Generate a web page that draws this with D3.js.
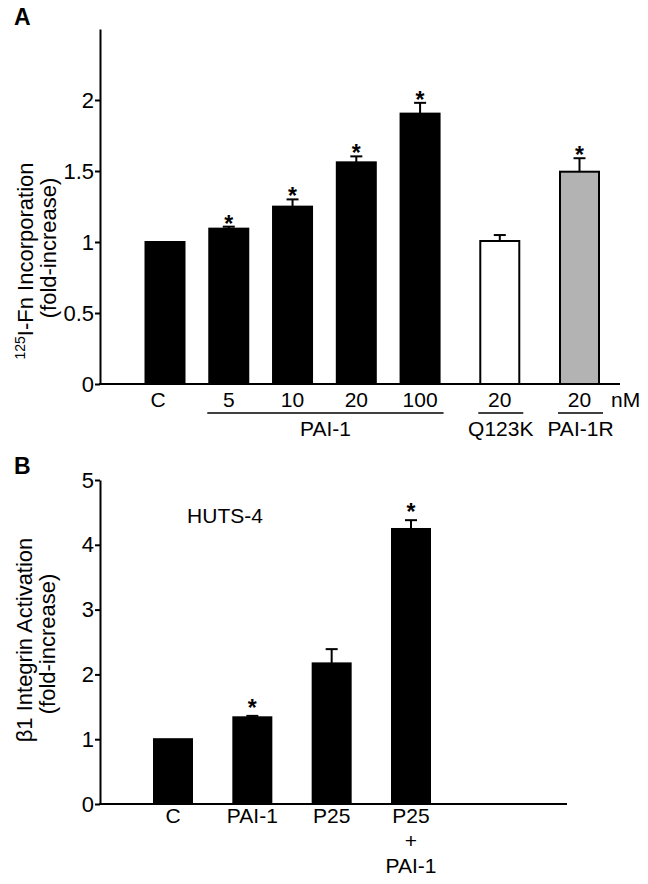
<!DOCTYPE html>
<html>
<head>
<meta charset="utf-8">
<script src="https://cdn.jsdelivr.net/npm/d3@7"></script>
<style>
    body { margin: 0; background: #fff; }
    text { font-family: "Liberation Sans", Arial, sans-serif; fill: #000; }
</style>
</head>
<body>
<div id="chart"></div>
<script>
// panel A data
let catsA = ["C", "5", "10", "20", "100", "20", "20"];
let groupA = ["C", "PAI-1", "PAI-1", "PAI-1", "PAI-1", "Q123K", "PAI-1R"];
let valsA = [1.0, 1.094, 1.249, 1.561, 1.904, 1.007, 1.495];
let errA = [0, 0.014, 0.051, 0.042, 0.076, 0.042, 0.095];
let sigA = [false, true, true, true, true, false, true];
let ticksA = [0, 0.5, 1, 1.5, 2];

// panel B data
let catsB = [["C"], ["PAI-1"], ["P25"], ["P25", "+", "PAI-1"]];
let valsB = [1.0, 1.338, 2.17, 4.244];
let errB = [0, 0.022, 0.22, 0.136];
let sigB = [false, true, false, true];
let ticksB = [0, 1, 2, 3, 4, 5];

let svg = d3.select("#chart").append("svg")
    .attr("width", 648)
    .attr("height", 884);

let color = d3.scaleOrdinal()
    .domain(["C", "PAI-1", "Q123K", "PAI-1R"])
    .range(["#000", "#000", "#fff", "#b3b3b3"]);

function drawBars(g, vals, errs, sig, x, y, bw, fills, starGap) {
    vals.forEach(function (v, i) {
        let cx = x(i);
        if (errs[i] > 0) {
            g.append("line")
                .attr("x1", cx).attr("x2", cx)
                .attr("y1", y(v)).attr("y2", y(v + errs[i]))
                .attr("stroke", "#000").attr("stroke-width", 2);
            g.append("line")
                .attr("x1", cx - 6).attr("x2", cx + 6)
                .attr("y1", y(v + errs[i])).attr("y2", y(v + errs[i]))
                .attr("stroke", "#000").attr("stroke-width", 2);
        }
        g.append("rect")
            .attr("x", cx - bw / 2)
            .attr("y", y(v))
            .attr("width", bw)
            .attr("height", y(0) - y(v))
            .attr("fill", fills[i])
            .attr("stroke", "#000")
            .attr("stroke-width", 2);
        if (sig[i]) {
            g.append("text")
                .attr("x", cx)
                .attr("y", y(v + errs[i]) + starGap)
                .attr("text-anchor", "middle")
                .style("font-size", "23px")
                .style("font-weight", "bold")
                .text("*");
        }
    });
}

function yTitle(x, y, size, build) {
    let t = svg.append("text")
        .attr("transform", "translate(" + x + "," + y + ") rotate(-90)")
        .attr("text-anchor", "middle")
        .style("font-size", size + "px");
    build(t);
}

function styleAxis(a) {
    a.select(".domain").attr("stroke-width", 2);
    a.selectAll(".tick line").attr("stroke-width", 2);
    a.selectAll(".tick text").style("font-size", "22px")
        .style("font-family", "'Liberation Sans', Arial, sans-serif");
}

// ---------------- panel A ----------------
let gA = svg.append("g");
let slotA = function (i) { return i + (i >= 5 ? (i - 4) * 0.25 : 0); };
let xA = d3.scaleLinear().domain([0, 6.5]).range([165, 579.5]);
let posA = function (i) { return xA(slotA(i)); };
let yA = d3.scaleLinear().domain([0, 2.5]).range([384, 29]);

drawBars(gA, valsA, errA, sigA, posA, yA, 39, groupA.map(function (g) { return color(g); }), 5);

gA.append("g")
    .attr("transform", "translate(100,0)")
    .call(d3.axisLeft(yA).tickValues(ticksA).tickSize(5).tickSizeOuter(0).tickPadding(1)
        .tickFormat(function (d) { return d; }))
    .call(styleAxis);
gA.append("line")
    .attr("x1", 99).attr("x2", 620)
    .attr("y1", yA(0)).attr("y2", yA(0))
    .attr("stroke", "#000").attr("stroke-width", 2);

gA.selectAll(".xlab").data(catsA).enter().append("text")
    .attr("x", function (d, i) { return posA(i) - (i === 0 ? 7 : 0); })
    .attr("y", 407)
    .attr("text-anchor", "middle")
    .style("font-size", "21px")
    .text(function (d) { return d; });

svg.append("text").attr("x", 611).attr("y", 407).style("font-size", "21px").text("nM");

// group underlines
["PAI-1", "Q123K", "PAI-1R"].forEach(function (gname) {
    let idx = groupA.map(function (g, i) { return g === gname ? i : -1; }).filter(function (i) { return i >= 0; });
    let x0 = posA(idx[0]) - 19.5 - 2;
    let x1 = posA(idx[idx.length - 1]) + 19.5 + 4;
    gA.append("line")
        .attr("x1", x0).attr("x2", x1)
        .attr("y1", 413).attr("y2", 413)
        .attr("stroke", "#000").attr("stroke-width", 1.5);
    gA.append("text")
        .attr("x", (x0 + x1) / 2)
        .attr("y", 436)
        .attr("text-anchor", "middle")
        .style("font-size", "21px")
        .text(gname);
});

yTitle(33, 261, 22, function (t) {
    t.append("tspan").attr("baseline-shift", "super").style("font-size", "14px").text("125");
    t.append("tspan").text("I-Fn Incorporation");
});
yTitle(56, 248, 22, function (t) { t.text("(fold-increase)"); });

svg.append("text").attr("x", 14).attr("y", 25)
    .style("font-size", "23px").style("font-weight", "bold").text("A");

// ---------------- panel B ----------------
let gB = svg.append("g");
let xB = d3.scaleLinear().domain([0, 3]).range([173, 411]);
let yB = d3.scaleLinear().domain([0, 5]).range([804, 480]);

drawBars(gB, valsB, errB, sigB, xB, yB, 38, valsB.map(function () { return "#000"; }), 0);

gB.append("g")
    .attr("transform", "translate(100,0)")
    .call(d3.axisLeft(yB).tickValues(ticksB).tickSize(5).tickSizeOuter(0).tickPadding(1)
        .tickFormat(d3.format("d")))
    .call(styleAxis);
gB.append("line")
    .attr("x1", 99).attr("x2", 567)
    .attr("y1", yB(0)).attr("y2", yB(0))
    .attr("stroke", "#000").attr("stroke-width", 2);

catsB.forEach(function (lines, i) {
    lines.forEach(function (s, k) {
        gB.append("text")
            .attr("x", xB(i))
            .attr("y", 823 + k * 25)
            .attr("text-anchor", "middle")
            .style("font-size", "21px")
            .text(s);
    });
});

svg.append("text").attr("x", 225).attr("y", 523).attr("text-anchor", "middle")
    .style("font-size", "21px").text("HUTS-4");

yTitle(32, 640, 22, function (t) { t.text("β1 Integrin Activation"); });
yTitle(55, 644, 22, function (t) { t.text("(fold-increase)"); });

svg.append("text").attr("x", 14).attr("y", 474)
    .style("font-size", "23px").style("font-weight", "bold").text("B");
</script>
</body>
</html>
